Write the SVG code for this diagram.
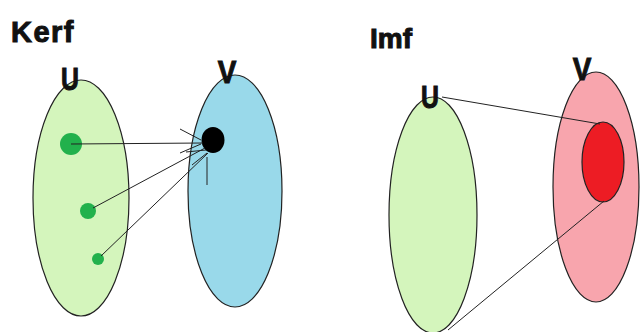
<svg xmlns="http://www.w3.org/2000/svg" width="640" height="332" viewBox="0 0 640 332">
<style>
.set{stroke:#222;stroke-width:1.2}
.lbl{font-family:"Liberation Sans",Arial,sans-serif;font-weight:bold;fill:#111;stroke:#111;stroke-width:1}
.ln{stroke:#222;stroke-width:1;fill:none}
</style>
<rect width="640" height="332" fill="#fff"/>
<text class="lbl" x="11" y="42" font-size="29" letter-spacing="1.5">Kerf</text>
<text class="lbl" x="370" y="48" font-size="28">Imf</text>

<g id="kerU">
<ellipse class="set" cx="81" cy="198" rx="48" ry="118" fill="#d4f5bc"/>
<text class="lbl" x="70" y="90" font-size="31" text-anchor="middle" transform="translate(70 0) scale(0.8 1) translate(-70 0)">U</text>
</g>
<g id="kerV">
<ellipse class="set" cx="235" cy="191" rx="47" ry="116" fill="#99d9ea"/>
<text class="lbl" x="227" y="83" font-size="31" text-anchor="middle" transform="translate(227 0) scale(0.9 1) translate(-227 0)">V</text>
</g>
<g id="dots">
<circle cx="71" cy="144" r="11" fill="#22b14c"/>
<circle cx="88" cy="211" r="8" fill="#22b14c"/>
<circle cx="98" cy="259" r="6" fill="#22b14c"/>
<ellipse cx="213" cy="140" rx="11.5" ry="13" fill="#000"/>
</g>
<g id="kerConnectors">
<line class="ln" x1="71" y1="144" x2="203" y2="143"/>
<line class="ln" x1="93" y1="208" x2="205" y2="148"/>
<line class="ln" x1="101" y1="256" x2="208" y2="153"/>
<line class="ln" x1="180" y1="129" x2="201" y2="140"/>
<line class="ln" x1="180" y1="153" x2="201" y2="144"/>
<line class="ln" x1="186" y1="152" x2="206" y2="150"/>
<line class="ln" x1="192" y1="165" x2="207" y2="153"/>
<line class="ln" x1="207" y1="157" x2="207" y2="185"/>
</g>

<g id="imU">
<ellipse class="set" cx="433" cy="215" rx="44" ry="118" fill="#d4f5bc"/>
<text class="lbl" x="430" y="108" font-size="31" text-anchor="middle" transform="translate(430 0) scale(0.8 1) translate(-430 0)">U</text>
</g>
<g id="imV">
<ellipse class="set" cx="596" cy="187" rx="43" ry="115" fill="#f8a5ad"/>
<text class="lbl" x="582" y="80" font-size="31" text-anchor="middle" transform="translate(582 0) scale(0.9 1) translate(-582 0)">V</text>
</g>
<g id="imImage">
<ellipse class="set" cx="603" cy="162" rx="21" ry="40" fill="#ed1c24" stroke-width="0.8"/>
</g>
<g id="imConnectors">
<line class="ln" x1="442" y1="97" x2="600" y2="124"/>
<line class="ln" x1="604" y1="201" x2="448" y2="330"/>
</g>
</svg>
